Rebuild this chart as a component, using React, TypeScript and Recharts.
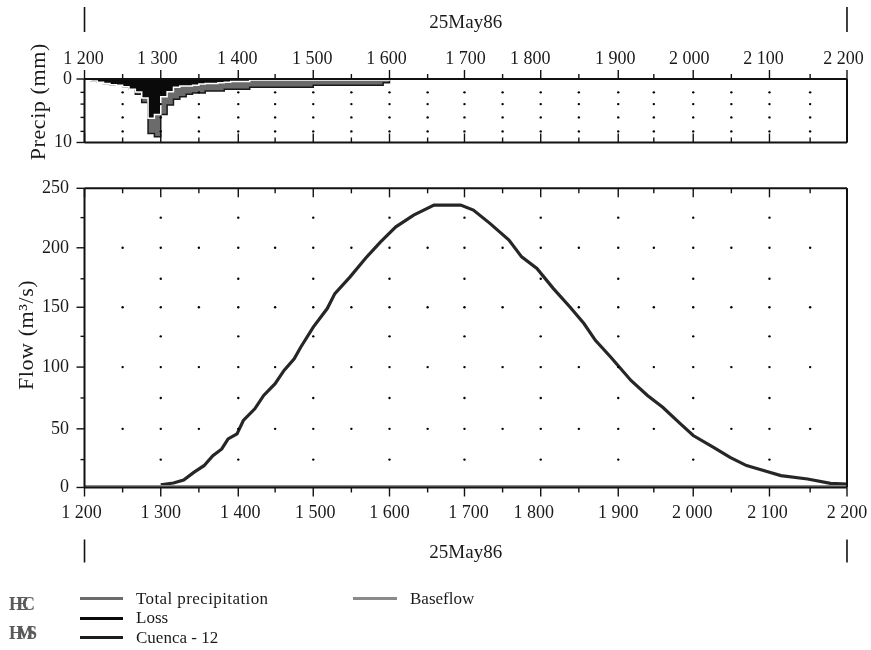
import React from "react"
import { ComposedChart, Area, Line, XAxis, YAxis, ReferenceDot } from "recharts"

const FONT = "'Liberation Serif', serif"
const INK = "#111"

const xTicks = [0, 30, 60, 90, 121, 150, 180, 210, 240, 270, 299, 329, 359, 389, 420, 448, 479, 509, 539, 571, 600]
const xLabels = ["1 200", "1 300", "1 400", "1 500", "1 600", "1 700", "1 800", "1 900", "2 000", "2 100", "2 200"]
const dateTicks = [0, 300, 600]
const dateLabel = "25May86"

const precipMinutes = [
  0, 5, 10, 15, 20, 25, 30, 35, 40, 45, 50, 55, 60, 65, 70, 75, 80, 85, 90, 95, 100, 105, 110, 115, 120, 125, 130, 135, 140,
  145, 150, 155, 160, 165, 170, 175, 180, 185, 190, 195, 200, 205, 210, 215, 220, 225, 230, 235, 240,
]
const totalPrecip = [
  0.2, 0.3, 0.5, 0.7, 0.9, 1.0, 1.2, 1.6, 2.4, 3.7, 8.6, 9.1, 5.6, 4.1, 3.2, 2.8, 2.4, 2.2, 2.2, 1.9, 1.9, 1.9, 1.6, 1.6, 1.6,
  1.6, 1.3, 1.3, 1.3, 1.3, 1.3, 1.3, 1.3, 1.3, 1.3, 1.3, 1.0, 1.0, 1.0, 1.0, 1.0, 1.0, 1.0, 1.0, 1.0, 1.0, 1.0, 0.6, 0,
]
const lossPrecip = [
  0.2, 0.3, 0.5, 0.7, 0.9, 1.0, 1.2, 1.6, 2.05, 3.0, 6.2, 5.6, 2.8, 2.0, 1.3, 1.1, 1.1, 1.0, 0.8, 0.7, 0.7, 0.6, 0.5, 0.4, 0.4,
  0.4, 0.15, 0.15, 0.15, 0.15, 0.15, 0.15, 0.15, 0.15, 0.15, 0.15, 0.15, 0.15, 0.15, 0.15, 0.15, 0.15, 0.15, 0.15, 0.15, 0.15,
  0.15, 0.15, 0,
]
const precipTicks = [0, 2.1, 3.95, 6.05, 8.25, 10]
const precipLabels = ["0", "", "", "", "", "10"]
const precipDotRows = [2.1, 3.95, 6.05, 8.25]

const flowMinutes = [
  0, 60, 70, 78, 86, 94, 101, 108, 113, 120, 125, 134, 141, 150, 157, 165, 170, 180, 191, 197, 209, 221, 233, 245, 259, 275,
  296, 306, 319, 334, 344, 356, 369, 382, 393, 402, 414, 430, 443, 455, 469, 479, 495, 508, 521, 535, 548, 569, 587, 600,
]
const flowValues = [
  null, 2.3, 3.7, 6.3, 12.6, 18.2, 26.6, 32.2, 40.6, 44.8, 56, 65.7, 76.9, 86.7, 97.8, 107.6, 117, 134, 149.5, 162, 176, 191.4,
  205.3, 217.8, 227.6, 236, 236, 231.8, 220.7, 206.7, 192.7, 183, 166.2, 150.8, 137, 123, 109, 89.4, 76.9, 67, 53.2, 43.4, 33.6,
  25.2, 18.3, 14, 9.9, 7.1, 3.4, 2.9,
]
const baseflowLevel = 1.2
const flowTicks = [0, 23.3, 49, 74.8, 100.6, 126.3, 150.6, 174.4, 200.3, 225.5, 250]
const flowLabels = ["0", "", "50", "", "100", "", "150", "", "200", "", "250"]

const legendLeft = [
  { name: "Total precipitation", color: "#6b6b6b" },
  { name: "Loss", color: "#0a0a0a" },
  { name: "Cuenca - 12", color: "#1c1c1c" },
]
const legendRight = [{ name: "Baseflow", color: "#8a8a8a" }]
const sideMarks = ["HEC", "HMS"]

// the hour labels sit a little off their ticks in the picture
const topLabelNudge = [-1, -3.5, -1, -1, -3, 1, -10.5, -3, -4, -6, -3.5]
const bottomLabelNudge = [-3, 0, 2, 2, 0, 4, -7, 0, -1, -2, 0]

const precipData = precipMinutes.map((t, i) => ({ t, total: totalPrecip[i], loss: lossPrecip[i] }))
const flowData = flowMinutes.map((t, i) => ({ t, flow: flowValues[i], base: baseflowLevel }))

const textProps = { fontFamily: FONT, fontSize: 18, fill: "#1a1a1a" }

const isMajor = (i: number) => i % 2 === 0

// tick mark plus optional label, dir -1 draws up and 1 draws down from the axis
const timeTick = (dir: number, nudges: number[] | null) => (p: any) => (
  <g>
    <line x1={p.x} x2={p.x} y1={p.y} y2={p.y + dir * (isMajor(p.index) ? 9 : 5)} stroke={INK} strokeWidth={1.4} />
    {nudges && isMajor(p.index) && (
      <text {...textProps} x={p.x + nudges[p.index / 2]} y={p.y + (dir < 0 ? -15 : 30.5)} textAnchor="middle">
        {xLabels[p.index / 2]}
      </text>
    )}
  </g>
)

const dateTick = (top: boolean) => (p: any) =>
  p.index === 1 ? (
    <text {...textProps} fontSize={19} x={p.x} y={top ? p.y - 51 : p.y + 71} textAnchor="middle">
      {dateLabel}
    </text>
  ) : (
    <line x1={p.x} x2={p.x} y1={top ? p.y - 72 : p.y + 52} y2={top ? p.y - 47 : p.y + 75} stroke={INK} strokeWidth={1.6} />
  )

const valueTick = (dir: number, labels: string[], gap: number) => (p: any) => {
  const major = labels[p.index] !== ""
  return (
    <g>
      <line x1={p.x} x2={p.x + dir * (major ? 8 : 4)} y1={p.y} y2={p.y} stroke={INK} strokeWidth={1.4} />
      {dir < 0 && major && (
        <text {...textProps} x={p.x - gap} y={p.y + 5} textAnchor="end">
          {labels[p.index]}
        </text>
      )}
    </g>
  )
}

const axisLine = { stroke: INK, strokeWidth: 2 }
const titleStyle = { fontFamily: FONT, fontSize: 22, letterSpacing: 0.6, fill: "#1a1a1a" }

// recharts skips an axis of size 0, so the axes get a sliver instead and the margins set the plot box
const SLIVER = 0.01

function timeAxis(id: string, orientation: "top" | "bottom", dir: number, nudges: number[] | null) {
  return (
    <XAxis
      xAxisId={id}
      type="number"
      dataKey="t"
      orientation={orientation}
      domain={[0, 600]}
      ticks={xTicks}
      interval={0}
      height={SLIVER}
      tickSize={0}
      tickMargin={0}
      tickLine={false}
      axisLine={axisLine}
      tick={timeTick(dir, nudges)}
    />
  )
}

function dateAxis(orientation: "top" | "bottom") {
  return (
    <XAxis
      xAxisId="date"
      type="number"
      dataKey="t"
      orientation={orientation}
      domain={[0, 600]}
      ticks={dateTicks}
      interval={0}
      height={SLIVER}
      tickSize={0}
      tickMargin={0}
      tickLine={false}
      axisLine={false}
      tick={dateTick(orientation === "top")}
    />
  )
}

function PrecipChart() {
  return (
    <ComposedChart
      width={871}
      height={170}
      data={precipData}
      margin={{ top: 79, right: 24, bottom: 27.5, left: 84.5 }}
      style={{ position: "absolute", left: 0, top: 0 }}
    >
      {dateAxis("top")}
      {timeAxis("upper", "top", -1, topLabelNudge)}
      {timeAxis("lower", "bottom", -1, null)}
      <YAxis
        yAxisId="left"
        type="number"
        reversed
        domain={[0, 10]}
        ticks={precipTicks}
        interval={0}
        width={SLIVER}
        tickSize={0}
        tickMargin={0}
        tickLine={false}
        axisLine={axisLine}
        tick={valueTick(-1, precipLabels, 12.5)}
        label={{ value: "Precip (mm)", angle: -90, position: "center", dx: -47, dy: -9, style: titleStyle }}
      />
      <YAxis
        yAxisId="right"
        type="number"
        orientation="right"
        reversed
        domain={[0, 10]}
        ticks={precipTicks}
        interval={0}
        width={SLIVER}
        tickSize={0}
        tickMargin={0}
        tickLine={false}
        axisLine={axisLine}
        tick={valueTick(1, precipLabels, 0)}
      />
      <Area
        xAxisId="upper"
        yAxisId="left"
        type="stepAfter"
        dataKey="total"
        baseValue={0}
        stroke="#1a1a1a"
        strokeWidth={1.5}
        fill="#6b6b6b"
        fillOpacity={1}
        dot={false}
        isAnimationActive={false}
      />
      <Area
        xAxisId="upper"
        yAxisId="left"
        type="stepAfter"
        dataKey="loss"
        baseValue={0}
        stroke="#ffffff"
        strokeWidth={1.5}
        fill="#0a0a0a"
        fillOpacity={1}
        dot={false}
        isAnimationActive={false}
      />
      {xTicks.slice(1, -1).map((t) =>
        precipDotRows.map((v) => (
          <ReferenceDot key={`${t}-${v}`} xAxisId="upper" yAxisId="left" x={t} y={v} r={1.2} fill="#000" stroke="none" />
        )),
      )}
    </ComposedChart>
  )
}

function FlowChart() {
  return (
    <ComposedChart
      width={871}
      height={570}
      data={flowData}
      margin={{ top: 188.3, right: 24, bottom: 82.5, left: 84.5 }}
      style={{ position: "absolute", left: 0, top: 0 }}
    >
      {dateAxis("bottom")}
      {timeAxis("upper", "top", 1, null)}
      {timeAxis("lower", "bottom", 1, bottomLabelNudge)}
      <YAxis
        yAxisId="left"
        type="number"
        domain={[0, 250]}
        ticks={flowTicks}
        interval={0}
        width={SLIVER}
        tickSize={0}
        tickMargin={0}
        tickLine={false}
        axisLine={axisLine}
        tick={valueTick(-1, flowLabels, 15.5)}
        label={{ value: "Flow (m³/s)", angle: -90, position: "center", dx: -59, dy: -3, style: titleStyle }}
      />
      <YAxis
        yAxisId="right"
        type="number"
        orientation="right"
        domain={[0, 250]}
        ticks={flowTicks}
        interval={0}
        width={SLIVER}
        tickSize={0}
        tickMargin={0}
        tickLine={false}
        axisLine={axisLine}
        tick={valueTick(1, flowLabels, 0)}
      />
      {xTicks.slice(1, -1).map((t, i) =>
        flowTicks.slice(1, -1).map((v, j) =>
          // the 25, 75, ... rows only carry a dot on the hour ticks
          j % 2 === 1 || i % 2 === 1 ? (
            <ReferenceDot key={`${t}-${v}`} xAxisId="lower" yAxisId="left" x={t} y={v} r={1.2} fill="#000" stroke="none" />
          ) : null,
        ),
      )}
      <Line
        xAxisId="lower"
        yAxisId="left"
        type="linear"
        dataKey="flow"
        stroke="#262626"
        strokeWidth={3.2}
        dot={false}
        isAnimationActive={false}
      />
      <Line
        xAxisId="lower"
        yAxisId="left"
        type="linear"
        dataKey="base"
        stroke="#8a8a8a"
        strokeWidth={2}
        dot={false}
        isAnimationActive={false}
      />
    </ComposedChart>
  )
}

function LegendBlock({ items, left, lineWidth }: { items: { name: string; color: string }[]; left: number; lineWidth: number }) {
  return (
    <div style={{ position: "absolute", left, top: 589, fontFamily: FONT, fontSize: 17, color: "#1a1a1a" }}>
      {items.map((item) => (
        <div
          key={item.name}
          style={{
            display: "flex",
            alignItems: "center",
            height: 19.6,
            whiteSpace: "nowrap",
            letterSpacing: item.name.length > 12 ? 0.4 : 0,
          }}
        >
          <span style={{ width: lineWidth, height: 3, background: item.color, marginRight: 13 }} />
          {item.name}
        </div>
      ))}
    </div>
  )
}

export default function App() {
  return (
    <div style={{ position: "absolute", left: 0, top: 0, width: 871, height: 650, background: "#fff", filter: "blur(0.3px)" }}>
      <PrecipChart />
      <FlowChart />
      <LegendBlock items={legendLeft} left={80} lineWidth={43} />
      <LegendBlock items={legendRight} left={353} lineWidth={44} />
      {sideMarks.map((mark, i) => (
        <div
          key={mark}
          style={{
            position: "absolute",
            left: 9,
            top: 594 + i * 29,
            fontFamily: FONT,
            fontSize: 18,
            fontWeight: 700,
            letterSpacing: -6.5,
            color: "#5a5a5a",
            filter: "blur(0.7px)",
          }}
        >
          {mark}
        </div>
      ))}
    </div>
  )
}
